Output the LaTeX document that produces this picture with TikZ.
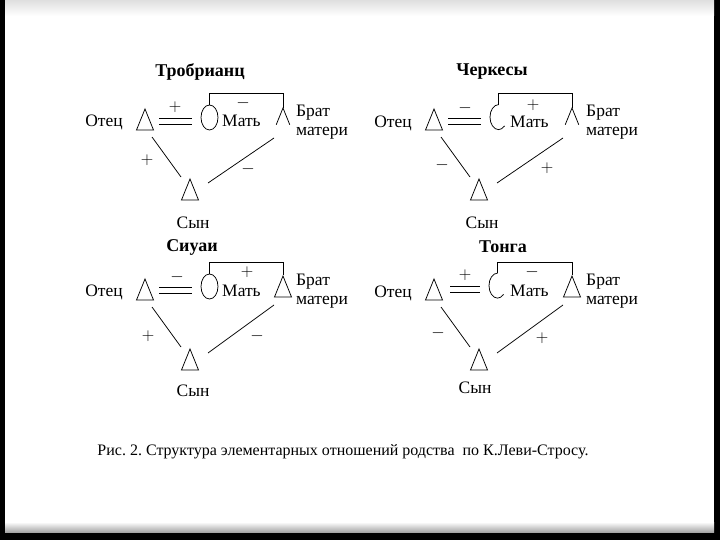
\documentclass[tikz,border=0pt]{standalone}
\usepackage{fontspec}
\setmainfont{Liberation Serif}
\usetikzlibrary{calc}
\usetikzlibrary{shapes}
\frenchspacing

\begin{document}
\begin{tikzpicture}[x=1pt,y=-1pt]
            % Define styles
            \tikzstyle{male} = [draw,isosceles triangle,isosceles triangle stretches,rotate=90,anchor=apex,minimum width=17pt,minimum height=21pt,inner sep=0pt,line width=.75pt]
            \tikzstyle{female} = [draw,ellipse,minimum width=17pt,minimum height=25pt,inner sep=0pt,line width=.75pt]
            \tikzstyle{kin} = [line width=.75pt]
            \tikzstyle{lbl} = [inner sep=0pt,font=\fontsize{17.5}{19}\selectfont]
            \tikzstyle{ttl} = [inner sep=0pt,font=\fontsize{18}{20}\selectfont\bfseries]
            \tikzstyle{sign} = [inner sep=0pt,font=\fontsize{17}{19}\selectfont]
            % Slide frame
            \useasboundingbox (0,0) rectangle (720,540);
            \fill[black] (0,0) rectangle (720,540);
            \fill[white] (5,0) rectangle (714,532);
            \shade[top color=gray!25,bottom color=white] (5,0) rectangle (714,16);
            \shade[top color=white,bottom color=gray!70] (5,522) rectangle (714,532);
            % Trobriand
                \node (T1) at (200,72) [ttl] {Тробрианц};
                \node (F1) at (145,108) [male] {};
                \node (lF1) at (104,122) [lbl] {Отец};
                \node (M1) at (209.5,117.5) [female] {};
                \node (lM1) at (222,121) [lbl,anchor=west] {Мать};
                \node (B1) at (283,108) [male,draw=none] {};
                \node (lB1) at (296,122) [lbl,anchor=west,align=left] {Брат\\матери};
                \node (S1) at (190,178) [male] {};
                \node (lS1) at (193,223) [lbl] {Сын};
                % signs
                \node (sFM1) at (175,107) [sign] {$+$};
                \node (sMB1) at (243,103) [sign] {$-$};
                \node (sFS1) at (147,160) [sign] {$+$};
                \node (sBS1) at (248,169) [sign] {$-$};
                % links
                \draw[kin] ($(B1.apex)!.75!(B1.left corner)$) -- (B1.apex) -- ($(B1.apex)!.75!(B1.right corner)$);
                \draw[kin] ($(F1.apex)+(14,10)$) -- ($(M1.west)+(-9,.5)$) ($(F1.apex)+(14,16)$) -- ($(M1.west)+(-9,6.5)$);
                \draw[kin] (M1.north) |- ($(B1.apex)+(0,-15)$) -- (B1.apex);
                \draw[kin] ($(F1.apex)+(7,29)$) -- ($(S1.apex)+(-9,-1)$);
                \draw[kin] ($(B1.apex)+(-9,30)$) -- ($(S1.apex)+(18,5)$);
            % Circassians
                \node (T2) at (492,72) [ttl] {Черкесы};
                \node (F2) at (434,108) [male] {};
                \node (lF2) at (393,123) [lbl] {Отец};
                \node (M2) at (498.5,117.5) [female,draw=none] {};
                \node (lM2) at (510,122) [lbl,anchor=west] {Мать};
                \node (B2) at (572,108) [male,draw=none] {};
                \node (lB2) at (586,122) [lbl,anchor=west,align=left] {Брат\\матери};
                \node (S2) at (479,178) [male] {};
                \node (lS2) at (482,223) [lbl] {Сын};
                % signs
                \node (sFM2) at (465,108) [sign] {$-$};
                \node (sMB2) at (533,105) [sign] {$+$};
                \node (sFS2) at (442,165) [sign] {$-$};
                \node (sBS2) at (547,168) [sign] {$+$};
                % links
                \draw[kin] (M2.north) arc[start angle=90,end angle=315,x radius=8.5pt,y radius=12.5pt];
                \draw[kin] ($(B2.apex)!.75!(B2.left corner)$) -- (B2.apex) -- ($(B2.apex)!.75!(B2.right corner)$);
                \draw[kin] ($(F2.apex)+(14,10)$) -- ($(M2.west)+(-9,.5)$) ($(F2.apex)+(14,16)$) -- ($(M2.west)+(-9,6.5)$);
                \draw[kin] (M2.north) |- ($(B2.apex)+(0,-15)$) -- (B2.apex);
                \draw[kin] ($(F2.apex)+(7,29)$) -- ($(S2.apex)+(-9,-1)$);
                \draw[kin] ($(B2.apex)+(-9,30)$) -- ($(S2.apex)+(18,5)$);
            % Siuai
                \node (T3) at (192,247) [ttl] {Сиуаи};
                \node (F3) at (145,278) [male] {};
                \node (lF3) at (104,292) [lbl] {Отец};
                \node (M3) at (209.5,286.5) [female] {};
                \node (lM3) at (222,291) [lbl,anchor=west] {Мать};
                \node (B3) at (283,275) [male] {};
                \node (lB3) at (296,291) [lbl,anchor=west,align=left] {Брат\\матери};
                \node (S3) at (190,348) [male] {};
                \node (lS3) at (193,391) [lbl] {Сын};
                % signs
                \node (sFM3) at (177,277) [sign] {$-$};
                \node (sMB3) at (247,272) [sign] {$+$};
                \node (sFS3) at (148,336) [sign] {$+$};
                \node (sBS3) at (257,336) [sign] {$-$};
                % links
                \draw[kin] ($(F3.apex)+(14,9)$) -- ($(M3.west)+(-9,.5)$) ($(F3.apex)+(14,15)$) -- ($(M3.west)+(-9,6.5)$);
                \draw[kin] (M3.north) |- ($(B3.apex)+(0,-13)$) -- (B3.apex);
                \draw[kin] ($(F3.apex)+(7,29)$) -- ($(S3.apex)+(-9,-1)$);
                \draw[kin] ($(B3.apex)+(-9,30)$) -- ($(S3.apex)+(18,5)$);
            % Tonga
                \node (T4) at (503,247) [ttl] {Тонга};
                \node (F4) at (434,278) [male] {};
                \node (lF4) at (393,293) [lbl] {Отец};
                \node (M4) at (497.5,286) [female,draw=none] {};
                \node (lM4) at (510,291) [lbl,anchor=west] {Мать};
                \node (B4) at (572,275) [male] {};
                \node (lB4) at (586,291) [lbl,anchor=west,align=left] {Брат\\матери};
                \node (S4) at (479,348) [male] {};
                \node (lS4) at (475,388) [lbl] {Сын};
                % signs
                \node (sFM4) at (465,275) [sign] {$+$};
                \node (sMB4) at (532,272) [sign] {$-$};
                \node (sFS4) at (438,333) [sign] {$-$};
                \node (sBS4) at (542,338) [sign] {$+$};
                % links
                \draw[kin] (M4.north) arc[start angle=90,end angle=315,x radius=8.5pt,y radius=12.5pt];
                \draw[kin] ($(F4.apex)+(16,8)$) -- ($(M4.west)+(-9,0)$) ($(F4.apex)+(16,14)$) -- ($(M4.west)+(-9,6)$);
                \draw[kin] (M4.north) |- ($(B4.apex)+(0,-13)$) -- (B4.apex);
                \draw[kin] ($(F4.apex)+(7,29)$) -- ($(S4.apex)+(-9,-1)$);
                \draw[kin] ($(B4.apex)+(-9,30)$) -- ($(S4.apex)+(18,5)$);
            % Caption
                \node (cap) at (343,452) [lbl,font=\fontsize{16}{18}\selectfont] {Рис. 2. Структура элементарных отношений родства\ \ по К.Леви-Стросу.};
\end{tikzpicture}
\end{document}
